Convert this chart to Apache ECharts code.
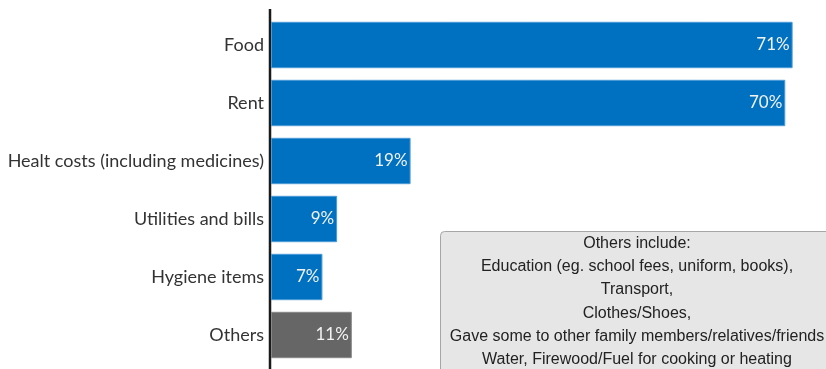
<!DOCTYPE html>
<html>
<head>
<meta charset="utf-8">
<script src="https://cdn.jsdelivr.net/npm/echarts@6/dist/echarts.min.js"></script>
<style>
  html, body { margin: 0; padding: 0; background: #fff; }
  #chart { width: 826px; height: 369px; }
</style>
</head>
<body>
<div id="chart"></div>
<script>
    // categories and shares (%)
    var categories = ['Food', 'Rent', 'Healt costs (including medicines)', 'Utilities and bills', 'Hygiene items', 'Others'];
    var shares = [71, 70, 19, 9, 7, 11];
    var barColors = ['#0070C0', '#0070C0', '#0070C0', '#0070C0', '#0070C0', '#666666'];
    var noteLines = [
        'Others include:',
        'Education (eg. school fees, uniform, books),',
        'Transport,',
        'Clothes/Shoes,',
        'Gave some to other family members/relatives/friends',
        'Water, Firewood/Fuel for cooking or heating'
    ];

    var myChart = echarts.init(document.getElementById('chart'));

    var option = {
        animation: false,
        grid: { left: 271, right: 4, top: 16, bottom: 5 },
        xAxis: {
            type: 'value',
            min: 0,
            max: 75,
            show: false
        },
        yAxis: {
            type: 'category',
            inverse: true,
            data: categories,
            axisLine: { show: false },
            axisTick: { show: false },
            axisLabel: {
                margin: 7,
                fontFamily: 'Lato',
                fontSize: 18,
                color: '#333333'
            }
        },
        series: [{
            type: 'bar',
            barCategoryGap: '20%',
            data: shares.map(function (v, i) {
                return {
                    value: v,
                    itemStyle: { color: barColors[i], borderColor: i < 5 ? '#4a9ad6' : '#888888', borderWidth: 1 }
                };
            }),
            label: {
                show: true,
                position: 'insideRight',
                distance: 3,
                formatter: '{c}%',
                fontFamily: 'Lato',
                fontSize: 17,
                color: '#f2f2f2'
            }
        }],
        graphic: [
            {
                type: 'line',
                shape: { x1: 270, y1: 9, x2: 270, y2: 369 },
                style: { stroke: '#1a1a1a', lineWidth: 2.5 }
            },
            {
                type: 'rect',
                shape: { x: 440.5, y: 231.5, width: 400, height: 150, r: 4 },
                style: { fill: '#e6e6e6', stroke: '#a6a6a6', lineWidth: 1 }
            },
            {
                type: 'text',
                x: 637,
                y: 232,
                style: {
                    text: noteLines.join('\n'),
                    align: 'center',
                    verticalAlign: 'top',
                    fontFamily: 'Liberation Sans',
                    fontSize: 16,
                    lineHeight: 23.2,
                    fill: '#222222'
                }
            }
        ]
    };

    myChart.setOption(option);
</script>
</body>
</html>
